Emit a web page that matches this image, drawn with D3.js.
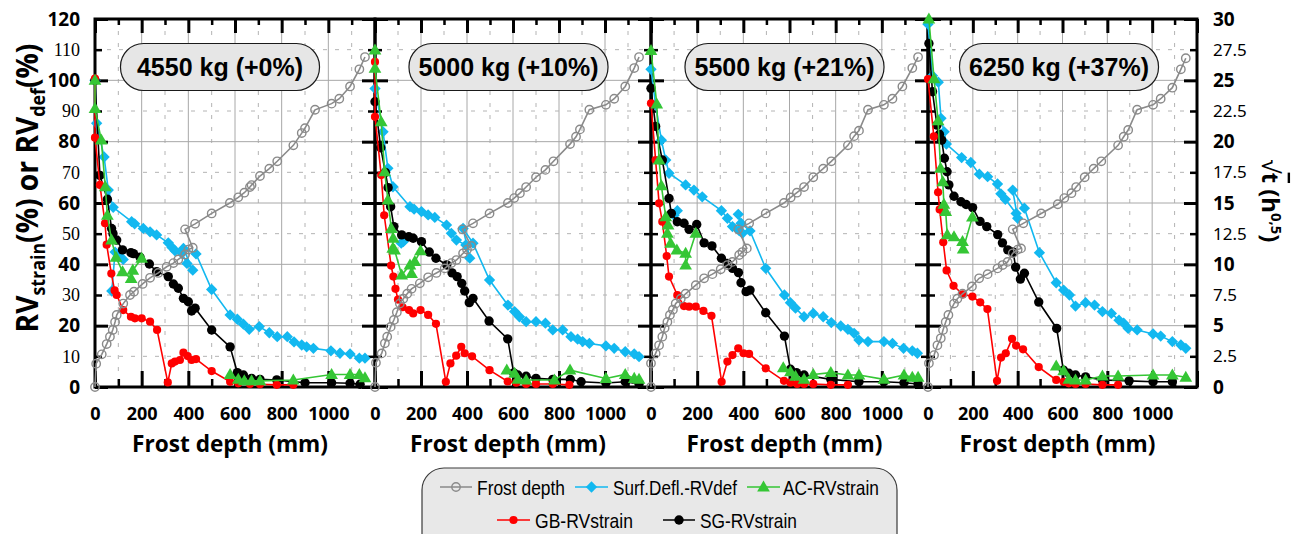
<!DOCTYPE html>
<html><head><meta charset="utf-8">
<script src="https://cdn.jsdelivr.net/npm/d3@7"></script>
<style>
body{margin:0;background:#fff;}
svg{display:block;}
</style></head><body>
<svg id="c" width="1291" height="534"></svg>
<script>
// ---------------- DATA ----------------
const loads = ["4550 kg (+0%)","5000 kg (+10%)","5500 kg (+21%)","6250 kg (+37%)"];
const xTickLabels = [0,200,400,600,800,1000];
const xGridMajor = [200,400,600,800,1000];
const xGridMinor = [100,300,500,700,900,1100];
const yLeftTicks = [0,10,20,30,40,50,60,70,80,90,100,110,120];
const yRightTicks = [0,2.5,5,7.5,10,12.5,15,17.5,20,22.5,25,27.5,30];
const seriesNames = ["Frost depth","Surf.Defl.-RVdef","AC-RVstrain","GB-RVstrain","SG-RVstrain"];

// [frost depth (mm), sqrt(t) (h^0.5)]
const frost1 = [[0,0],[5,1.9],[29,2.66],[50,3.5],[64,4.1],[76,4.65],[86,5.3],[93,5.87],[121,6.8],[150,7.5],[167,7.77],[204,8.4],[236,8.9],[271,9.3],[307,9.8],[336,10.1],[357,10.4],[386,10.8],[400,11.2],[419,11.35],[386,12.85],[429,13.3],[500,14.15],[578,15.0],[614,15.46],[640,15.84],[664,16.3],[671,16.46],[707,17.2],[747,17.8],[781,18.4],[850,19.7],[886,20.7],[900,21.1],[943,22.6],[1014,23.1],[1047,23.5],[1093,24.5],[1133,25.9],[1157,26.9]];
const frost2 = [[0,0],[4,1.98],[29,2.74],[43,3.56],[53,4.1],[68,4.9],[82,5.46],[95,6.1],[108,6.8],[123,7.2],[140,7.6],[159,8.0],[195,8.45],[231,8.94],[267,9.3],[303,9.67],[332,10.1],[354,10.35],[383,10.9],[400,11.2],[419,11.5],[380,12.85],[426,13.34],[498,14.15],[578,15.0],[605,15.4],[630,15.8],[657,16.3],[700,17.1],[741,17.7],[776,18.4],[848,19.8],[874,20.4],[891,21.0],[932,22.6],[1004,23.0],[1040,23.5],[1088,24.5],[1127,26.0],[1148,26.9]];
const frost3 = [[0,0],[0,1.93],[20,2.74],[35,3.4],[49,4.1],[59,4.8],[71,5.3],[82,5.87],[95,6.3],[107,6.8],[129,7.2],[150,7.6],[194,8.3],[230,8.86],[266,9.2],[302,9.6],[331,9.94],[353,10.2],[382,10.76],[396,11.0],[415,11.3],[378,12.85],[425,13.34],[497,14.15],[576,15.0],[605,15.45],[632,15.84],[663,16.3],[703,17.1],[746,17.8],[781,18.4],[853,19.7],[880,20.45],[901,20.9],[940,22.6],[1009,23.0],[1046,23.5],[1089,24.5],[1132,26.0],[1157,26.9]];
const frost4 = [[0,0],[4,1.93],[27,2.6],[42,3.4],[57,3.97],[67,4.65],[79,5.3],[91,5.87],[116,6.8],[131,7.2],[154,7.6],[196,8.2],[228,8.86],[266,9.2],[310,9.67],[333,9.94],[355,10.2],[378,10.9],[400,11.2],[415,11.3],[378,12.85],[425,13.34],[505,14.15],[579,14.9],[608,15.4],[640,15.8],[661,16.3],[699,17.1],[739,17.8],[773,18.4],[848,19.7],[873,20.4],[893,20.95],[933,22.6],[1004,23.0],[1038,23.5],[1090,24.4],[1128,25.9],[1150,26.8]];

// [frost depth (mm), RV (%)]
const defl1 = [[0,100],[7,86],[39,75],[57,64.2],[78,58.6],[157,53.9],[170,53.2],[207,51.7],[236,50.6],[264,49.6],[314,47],[330,45.5],[343,44.4],[372,43.6],[394,40.3],[419,38.1],[379,45.2],[433,43.4],[500,31.8],[579,23.5],[610,22.1],[636,20.5],[661,18.8],[704,19.7],[747,17.7],[781,16.4],[824,16.4],[853,14.7],[886,13.7],[907,13.1],[936,12.6],[1011,11.8],[1050,11],[1093,10.8],[1133,9.4],[1157,9.4],null,[72,31.3],[86,44],[106,42.5],[121,41.6]];
const ac1 = [[0,100],[0,90.8],[27,80.5],[44,65.3],[53,56],[71,47.9],[90,42.3],[118,37.6],[155,35.4],[162,38.1],[200,42],null,[579,4.1],[614,2.5],[640,2],[671,2],[707,2],[850,2.3],[1014,4.1],[1093,4.1],[1133,4.1],[1157,3]];
const gb1 = [[0,100.6],[0,81.3],[21,65.9],[43,53.4],[50,46.4],[70,37],[84,31.5],[93,30],[121,25.1],[154,22.9],[171,22.4],[200,22.4],[236,21.3],[266,18.6],[312,1.5],[329,7.7],[343,8.3],[364,8.8],[379,11.2],[397,10.1],[414,8.8],[433,9.1],[500,5.2],[579,1.7],[614,1.2],[664,1],[707,0.9],[779,0.7],[850,0.7]];
const sg1 = [[0,100],[21,69],[53,61.2],[71,51.7],[77,50],[93,47.9],[118,44.7],[154,43.8],[165,43.5],[193,42.3],[233,40.1],[264,37.6],[314,36],[336,33.6],[357,32.2],[379,28.9],[400,27.8],[414,24.8],[429,25.7],[500,18.6],[579,13.1],[610,4.7],[636,3.9],[671,2.8],[707,2.5],[779,2.3],[900,1.4],[1014,1.4],[1093,1.2],[1136,0.9]];

const defl2 = [[0,97.3],[35,83.2],[56,71.3],[78,65.3],[152,58.8],[170,58],[202,57.2],[231,56.1],[260,55.3],[311,52.8],[332,50.1],[354,47.9],[395,46.3],[412,42],[383,51.7],[426,46.9],[498,34.9],[578,26.7],[607,24.6],[628,22.9],[657,21.3],[700,21.3],[741,20.8],[773,18.6],[816,18.6],[852,16.4],[881,15.6],[903,14.8],[932,14.2],[1004,13.4],[1040,12.6],[1088,11.5],[1127,10.8],[1148,9.9],null,[114,46.9],[123,47.4]];
const ac2 = [[0,109.9],[0,103.9],[27,86.5],[42,70.2],[56,61],[71,51.7],[79,48.5],[77,45.2],[85,44.7],[116,36.5],[152,39.8],[159,37],[173,40.9],[198,44.4],null,[573,5.5],[607,4.5],[621,2.5],[657,2.3],[780,2.3],[848,5.5],[1004,2.8],[1088,4.1],[1127,2.8],[1148,2.5]];
const gb2 = [[0,106],[0,88.1],[27,69.1],[40,56],[70,39.6],[80,36],[89,32],[100,28.5],[120,26],[148,25.1],[166,24],[198,25.1],[231,23.5],[265,20.6],[308,1.7],[328,7.7],[353,10.2],[375,13.1],[390,11],[422,10],[498,5.5],[577,1.8],[614,1.4],[657,1],[700,1],[773,1],[845,0.7]];
const sg2 = [[0,93],[25,78],[45,70],[57,65],[68,58.8],[82,52.3],[116,49.6],[147,49],[166,48.5],[202,47.4],[236,44],[265,42],[312,39.8],[335,37.2],[357,36],[377,33.8],[390,31.3],[410,27.5],[426,28.9],[496,21.5],[577,15.7],[603,4.6],[621,3.9],[657,3.5],[700,2.8],[773,2.5],[849,2.5],[896,1.7],[1004,1.3],[1088,1.7],[1148,1]];

const defl3 = [[0,103.6],[20,92],[45,80.5],[64,74],[78,69.7],[150,65.9],[186,64.2],[222,62],[305,57.5],[331,55],[353,52.3],[382,51],[396,50.1],[378,56.3],[390,53.4],[429,50.9],[497,38.7],[578,30],[604,27.5],[626,25.7],[663,22.9],[703,24],[746,22.9],[781,21],[822,19.9],[853,18.8],[880,17.5],[901,15.3],[940,14.8],[1009,14.8],[1046,14.2],[1094,12.6],[1132,11.8],[1154,11],null,[100,56],[114,57.5]];
const ac3 = [[0,109.7],[25,92.3],[35,74],[45,65.6],[64,55.5],[74,52.8],[71,50.1],[85,46.9],[112,44.7],[150,43.6],[150,39.8],[194,50.1],null,[573,6.3],[604,5],[626,3.5],[663,2.5],[703,4.1],[779,4.7],[853,3.9],[901,3.9],[1009,2.5],[1096,3.9],[1132,3.2],[1157,3.2]];
const gb3 = [[0,92.5],[20,74],[35,59.9],[49,53.9],[68,42.7],[78,36],[114,30],[143,26.4],[165,26.2],[194,26.2],[227,24.8],[262,23.2],[306,1.7],[331,8.3],[353,10.4],[378,12.6],[401,11],[425,10.8],[497,6.1],[576,2],[604,1.4],[633,1],[663,1],[703,1],[779,0.7],[853,0.7]];
const sg3 = [[0,97.4],[20,85],[49,74],[78,61.5],[88,56.6],[114,53.9],[143,53.4],[165,51.4],[198,53],[230,47],[264,46],[305,42],[331,40.3],[353,38.7],[379,37.3],[390,34],[412,31.1],[429,31.6],[497,24.2],[578,16.6],[604,5.8],[630,4.7],[663,3.9],[779,2.5],[901,1.7],[1009,1.7],[1096,1.4],[1157,1]];

const defl4 = [[0,118.3],[20,101.5],[46,99.4],[58,87.6],[72,83.2],[82,79.2],[150,74.8],[191,73.2],[229,69.4],[266,68.6],[310,66.2],[325,63],[345,61.2],[393,56.6],[400,55],[378,64.2],[430,58.3],[497,43.8],[572,34],[605,31.6],[631,30],[658,26.4],[703,27.5],[743,26.7],[778,24.6],[818,24],[852,21.8],[873,20.8],[893,19.1],[933,18.6],[1004,17.3],[1038,16.6],[1090,14.8],[1128,13.7],[1150,12.6]];
const ac4 = [[4,120],[27,100.5],[45,86.8],[56,71.3],[66,66.9],[71,59.6],[79,57.2],[86,49.6],[116,49],[154,47.4],[157,45],[198,55.4],null,[572,6.8],[605,5.3],[628,2.5],[658,2.3],[703,2.3],[778,3.6],[848,3.6],[1004,3.9],[1090,3.9],[1150,3.2]];
const gb4 = [[0,100.4],[26,81.7],[45,63.5],[52,57.9],[68,47.2],[83,38],[114,33],[155,30.2],[198,29.5],[233,27.6],[265,25.4],[308,2],[326,9.6],[347,11],[375,15.7],[393,13.5],[424,12.3],[494,6.5],[572,2.3],[605,1.7],[628,1.2],[658,1],[703,1],[778,0.7],[848,0.7]];
const sg4 = [[4,112],[20,96.3],[40,85.4],[51,82.4],[61,80.5],[73,74.6],[85,70.2],[93,65.9],[116,62.2],[147,60.4],[170,59.5],[199,58.5],[232,54],[262,52.3],[311,49.7],[332,47],[356,44.7],[380,44],[391,39.1],[412,35.2],[430,37.1],[494,27.7],[574,19.1],[604,5.5],[628,4.5],[658,3.9],[703,3.3],[778,2.3],[897,2],[1004,1.7],[1090,1.7]];

const panelData = [
  {frost:frost1, defl:defl1, ac:ac1, gb:gb1, sg:sg1},
  {frost:frost2, defl:defl2, ac:ac2, gb:gb2, sg:sg2},
  {frost:frost3, defl:defl3, ac:ac3, gb:gb3, sg:sg3},
  {frost:frost4, defl:defl4, ac:ac4, gb:gb4, sg:sg4}
];

// ---------------- LAYOUT / STYLE ----------------
const svg = d3.select("#c");
const yTop = 19, yBot = 387;
const panelX = [[95,375],[375,651],[651,928],[928,1197]];
const boxCx = [220, 508.5, 784.5, 1059];
const y = d3.scaleLinear().domain([0,120]).range([yBot,yTop]);
const y2 = d3.scaleLinear().domain([0,30]).range([yBot,yTop]);
const BOLD = "'Open Sans', 'Liberation Sans', Arial, sans-serif";

const C = {frost:"#8a8a8a", defl:"#12B8F0", ac:"#35C635", gb:"#FF0000", sg:"#000000"};

function drawMarker(g, key, cx, cy){
  if(key==="frost"){
    g.append("circle").attr("cx",cx).attr("cy",cy).attr("r",4.2)
     .attr("fill","none").attr("stroke",C.frost).attr("stroke-width",1.4);
  } else if(key==="defl"){
    g.append("path").attr("d",d3.symbol(d3.symbolSquare,64)())
     .attr("transform",`translate(${cx},${cy}) rotate(45)`).attr("fill",C.defl);
  } else if(key==="ac"){
    g.append("path").attr("d",d3.symbol(d3.symbolTriangle,70)())
     .attr("transform",`translate(${cx},${cy+0.8})`).attr("fill",C.ac);
  } else if(key==="gb"){
    g.append("circle").attr("cx",cx).attr("cy",cy).attr("r",4.1).attr("fill",C.gb);
  } else {
    g.append("circle").attr("cx",cx).attr("cy",cy).attr("r",4.7).attr("fill",C.sg);
  }
}

panelData.forEach((pd,i)=>{
  const [L,R] = panelX[i];
  const x = d3.scaleLinear().domain([0,1200]).range([L,R]);
  const g = svg.append("g");

  // grid
  const grid = g.append("g");
  grid.selectAll(".vmaj").data(xGridMajor).join("line")
    .attr("x1",d=>x(d)).attr("x2",d=>x(d)).attr("y1",yTop).attr("y2",yBot)
    .attr("stroke","#a8a8a8").attr("stroke-width",1);
  grid.selectAll(".vmin").data(xGridMinor).join("line").attr("class","vmin")
    .attr("x1",d=>x(d)).attr("x2",d=>x(d)).attr("y1",yTop).attr("y2",yBot)
    .attr("stroke","#b4b4b4").attr("stroke-width",1).attr("stroke-dasharray","4,8");
  const yMaj = yLeftTicks.filter(v=>v%20===0 && v>0 && v<120);
  const yMin = yLeftTicks.filter(v=>v%20!==0);
  grid.selectAll(".hmaj").data(yMaj).join("line").attr("class","hmaj")
    .attr("x1",L).attr("x2",R).attr("y1",d=>y(d)).attr("y2",d=>y(d))
    .attr("stroke","#a8a8a8").attr("stroke-width",1);
  grid.selectAll(".hmin").data(yMin).join("line").attr("class","hmin")
    .attr("x1",L).attr("x2",R).attr("y1",d=>y(d)).attr("y2",d=>y(d))
    .attr("stroke","#b4b4b4").attr("stroke-width",1).attr("stroke-dasharray","4,8");

  // frame
  g.append("rect").attr("x",L).attr("y",yTop).attr("width",R-L).attr("height",yBot-yTop)
    .attr("fill","none").attr("stroke","#000").attr("stroke-width",3);

  // inward ticks
  const xMajT = [0,200,400,600,800,1000,1200], xMinT = xGridMinor;
  const yMajT = yLeftTicks.filter(v=>v%20===0), yMinT = yMin;
  function tickAxis(axis, tx, ty, w){
    const a = g.append("g").attr("transform",`translate(${tx},${ty})`).call(axis);
    a.select(".domain").remove(); a.selectAll("text").remove();
    a.selectAll("line").attr("stroke","#000").attr("stroke-width",w);
  }
  tickAxis(d3.axisTop(x).tickValues(xMajT).tickSize(-14), 0, yTop, 3);
  tickAxis(d3.axisTop(x).tickValues(xMinT).tickSize(-6), 0, yTop, 2.5);
  tickAxis(d3.axisBottom(x).tickValues(xMajT).tickSize(-16), 0, yBot, 3);
  tickAxis(d3.axisBottom(x).tickValues(xMinT).tickSize(-8), 0, yBot, 2.5);
  tickAxis(d3.axisLeft(y).tickValues(yMajT).tickSize(-13), L, 0, 3);
  tickAxis(d3.axisLeft(y).tickValues(yMinT).tickSize(-7), L, 0, 2.5);
  tickAxis(d3.axisRight(y).tickValues(yMajT).tickSize(-13), R, 0, 3);
  tickAxis(d3.axisRight(y).tickValues(yMinT).tickSize(-7), R, 0, 2.5);

  // x tick labels
  const xa = g.append("g").attr("transform",`translate(0,${yBot})`)
    .call(d3.axisBottom(x).tickValues(xTickLabels).tickFormat(d=>String(d)).tickSize(0).tickPadding(20));
  xa.select(".domain").remove();
  xa.selectAll("text").attr("font-family",BOLD).attr("font-weight",700)
    .attr("font-size",18).attr("fill","#000");

  // x title
  g.append("text").attr("x",(L+R)/2-5).attr("y",452).attr("text-anchor","middle")
    .attr("font-family",BOLD).attr("font-weight",700).attr("font-size",23)
    .attr("textLength",196).attr("lengthAdjust","spacingAndGlyphs")
    .text("Frost depth (mm)");

  // series
  const order = ["defl","sg","gb","ac","frost"];
  order.forEach(key=>{
    const ys = key==="frost" ? y2 : y;
    const data = pd[key];
    const ln = d3.line().defined(d=>d!=null).x(d=>x(d[0])).y(d=>ys(d[1]));
    g.append("path").attr("d",ln(data)).attr("fill","none")
      .attr("stroke",C[key]).attr("stroke-width",1.6);
    const mg = g.append("g");
    data.filter(d=>d!=null).forEach(d=>drawMarker(mg,key,x(d[0]),ys(d[1])));
  });

  // load label box
  const bw = 199, bh = 47;
  g.append("rect").attr("x",boxCx[i]-bw/2).attr("y",43.5).attr("width",bw).attr("height",bh)
    .attr("rx",23).attr("fill","#e6e6e6").attr("stroke","#1a1a1a").attr("stroke-width",1.2);
  g.append("text").attr("x",boxCx[i]).attr("y",76).attr("text-anchor","middle")
    .attr("font-family","'Liberation Sans', Arial, sans-serif").attr("font-weight",700)
    .attr("font-size",25).attr("fill","#000").text(loads[i]);
});

// left axis labels
const la = svg.append("g").attr("transform",`translate(${panelX[0][0]},0)`)
  .call(d3.axisLeft(y).tickValues(yLeftTicks).tickFormat(d=>String(d)).tickSize(0).tickPadding(15));
la.select(".domain").remove();
la.selectAll("text").each(function(d){
  const t = d3.select(this).attr("fill","#000");
  if(d%20===0) t.attr("font-family",BOLD).attr("font-weight",700).attr("font-size",19);
  else t.attr("font-family","'Liberation Serif', 'Times New Roman', serif").attr("font-size",18);
});

// right axis labels
const ra = svg.append("g").attr("transform",`translate(${panelX[3][1]},0)`)
  .call(d3.axisRight(y2).tickValues(yRightTicks).tickFormat(d=>String(d)).tickSize(0).tickPadding(16));
ra.select(".domain").remove();
ra.selectAll("text").each(function(d){
  const t = d3.select(this).attr("fill","#000");
  if(Number.isInteger(d/5)) t.attr("font-family",BOLD).attr("font-weight",700).attr("font-size",19);
  else t.attr("font-family","'Noto Sans', 'Liberation Sans', sans-serif").attr("font-size",17);
});

// left axis title
(function(){
  const big = 30, small = 19;
  const t = svg.append("text").attr("font-family",BOLD).attr("font-weight",700)
    .attr("text-anchor","middle").attr("font-size",big).attr("fill","#000");
  t.append("tspan").text("RV");
  t.append("tspan").attr("font-size",small).attr("dy",7).text("strain");
  t.append("tspan").attr("dy",-7).text("(%) or RV");
  t.append("tspan").attr("font-size",small).attr("dy",7).text("def");
  t.append("tspan").attr("dy",-7).text("(%)");
  const len = t.node().getComputedTextLength();
  const s = 289/len;
  t.attr("transform",`translate(38,188) rotate(-90) scale(${s},1)`);
})();

// right axis title
(function(){
  const t = svg.append("text").attr("font-family",BOLD).attr("font-weight",700)
    .attr("text-anchor","middle").attr("font-size",24).attr("fill","#000");
  t.append("tspan").attr("font-weight",400).text("\u221A");
  t.append("tspan").attr("style","text-decoration:overline").text("t");
  t.append("tspan").text(" (h");
  t.append("tspan").attr("font-size",15).attr("dy",-9).text("0,5");
  t.append("tspan").attr("dy",9).text(")");
  const len = t.node().getComputedTextLength();
  const s = 83/len;
  t.attr("transform",`translate(1262,201) rotate(90) scale(${s},1)`);
})();

// legend
(function(){
  const lg = svg.append("g");
  lg.append("rect").attr("x",422).attr("y",468).attr("width",475).attr("height",90)
    .attr("rx",22).attr("fill","#e8e8e8").attr("stroke","#3a3a3a").attr("stroke-width",1.2);
  const items = [
    {key:"frost", x1:440, x2:472, ty:487, tx:477, w:88},
    {key:"defl",  x1:575, x2:608, ty:487, tx:613, w:124},
    {key:"ac",    x1:747, x2:780, ty:487, tx:783, w:96},
    {key:"gb",    x1:497, x2:530, ty:520, tx:535, w:98},
    {key:"sg",    x1:663, x2:695, ty:520, tx:700, w:97}
  ];
  const keys = ["frost","defl","ac","gb","sg"];
  items.forEach(it=>{
    lg.append("line").attr("x1",it.x1).attr("x2",it.x2).attr("y1",it.ty).attr("y2",it.ty)
      .attr("stroke",C[it.key]).attr("stroke-width",1.5);
    drawMarker(lg, it.key, (it.x1+it.x2)/2, it.ty);
    lg.append("text").attr("x",it.tx).attr("y",it.ty+7.5)
      .attr("font-family","'Liberation Sans Narrow','Liberation Sans', Arial, sans-serif")
      .attr("font-size",21).attr("fill","#000")
      .attr("textLength",it.w).attr("lengthAdjust","spacingAndGlyphs")
      .text(seriesNames[keys.indexOf(it.key)]);
  });
})();
</script>
</body></html>
